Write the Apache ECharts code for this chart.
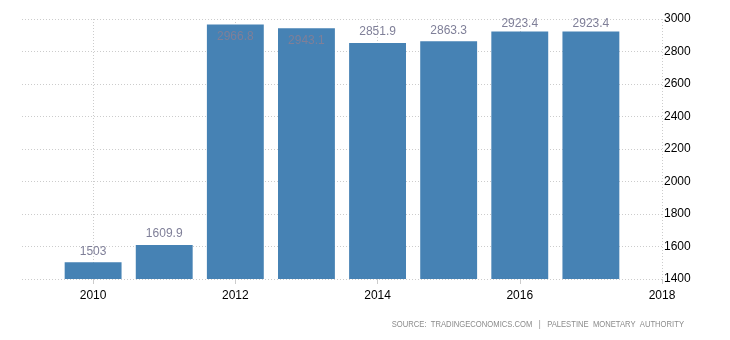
<!DOCTYPE html>
<html>
<head>
<meta charset="utf-8">
<script src="https://cdn.jsdelivr.net/npm/echarts@6/dist/echarts.min.js"></script>
<style>
html,body{margin:0;padding:0;background:#fff;}
#c{width:730px;height:340px;}
</style>
</head>
<body>
<div id="c"></div>
<script>
var years = ['2009','2010','2011','2012','2013','2014','2015','2016','2017','2018'];
var values = [null, 1503, 1609.9, 2966.8, 2943.1, 2851.9, 2863.3, 2923.4, 2923.4, null];
var yTicks = [1400, 1600, 1800, 2000, 2200, 2400, 2600, 2800, 3000];
var sourceText = 'SOURCE:  TRADINGECONOMICS.COM   |   PALESTINE  MONETARY  AUTHORITY';

var chart = echarts.init(document.getElementById('c'), null, {renderer: 'canvas'});
var evenIdx = function (i) { return i % 2 === 1; };
var data = values.map(function (v) {
  if (v === null) return null;
  var lab = {};
  if (v > 2930) { lab = {position: 'insideTop', distance: 6}; }
  else if (v > 2900) { lab = {position: 'top', distance: 2}; }
  return {value: v, label: lab};
});
chart.setOption({
  animation: false,
  grid: {left: 22, right: 68, top: 19, bottom: 61, containLabel: false},
  xAxis: {
    type: 'category',
    data: years,
    boundaryGap: false,
    axisLine: {show: false},
    axisTick: {show: true, interval: evenIdx, length: 5, lineStyle: {color: '#cccccc'}},
    axisLabel: {interval: evenIdx, color: '#000', fontFamily: 'Liberation Sans', fontSize: 12, margin: 11},
    splitLine: {show: true, interval: evenIdx, lineStyle: {color: '#cccccc', type: [1, 2], width: 1}}
  },
  yAxis: {
    type: 'value',
    position: 'right',
    min: yTicks[0],
    max: yTicks[yTicks.length - 1],
    interval: 200,
    axisLine: {show: false},
    axisTick: {show: false},
    axisLabel: {color: '#000', fontFamily: 'Liberation Sans', fontSize: 12, margin: 2, align: 'left',
      formatter: function (v) { return String(v); }},
    splitLine: {show: true, lineStyle: {color: '#cccccc', type: [1, 2], width: 1}}
  },
  series: [{
    type: 'bar',
    data: data,
    barWidth: '80%',
    itemStyle: {color: '#4682b4'},
    label: {show: true, position: 'top', distance: 5, color: '#7f7f98', fontFamily: 'Liberation Sans', fontSize: 12}
  }],
  graphic: [{
    type: 'text',
    x: 684,
    y: 325,
    scaleX: 0.85,
    style: {text: sourceText, fill: '#8c8c8c', font: '9px "Liberation Sans"', align: 'right', verticalAlign: 'middle'}
  }]
});
</script>
</body>
</html>
